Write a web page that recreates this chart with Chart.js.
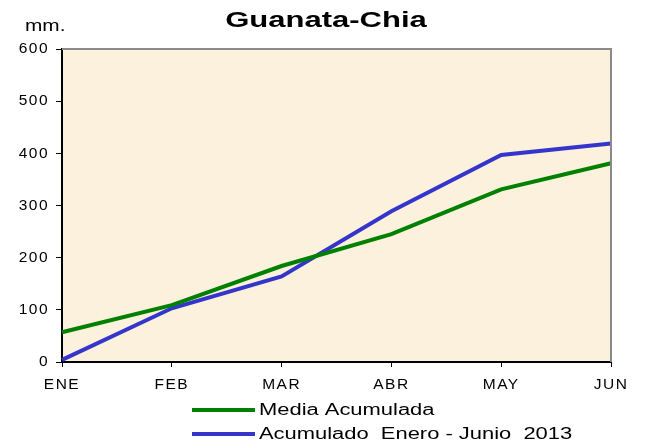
<!DOCTYPE html>
<html>
<head>
<meta charset="utf-8">
<script src="https://cdn.jsdelivr.net/npm/chart.js@4.4.1/dist/chart.umd.min.js"></script>
<style>
  html, body { margin: 0; padding: 0; background: #fff; }
  #wrap { width: 645px; height: 448px; position: relative; }
</style>
</head>
<body>
<div id="wrap"><canvas id="rainChart" width="645" height="448"></canvas></div>
<script>
// Chart data
const months = ['ENE', 'FEB', 'MAR', 'ABR', 'MAY', 'JUN'];
const mediaAcumulada = [57, 109, 184, 245, 331, 381];
const acumulado2013 = [4, 103, 164, 289, 397, 419];
const yTicks = [0, 100, 200, 300, 400, 500, 600];

const seriesLabels = ['Media Acumulada', 'Acumulado  Enero - Junio  2013'];
const seriesColors = ['#008000', '#3535cc'];

const FONT = '"Liberation Sans", Arial, sans-serif';

// the original picture is stretched sideways, so text is drawn wider
function wideText(ctx, text, x, y, sx, align) {
  ctx.save();
  ctx.translate(x, y);
  ctx.scale(sx, 1);
  ctx.textAlign = align;
  ctx.fillText(text, 0, 0);
  ctx.restore();
}

// Plot background, frame, title, unit label and legend
const decorPlugin = {
  id: 'decor',
  beforeDraw(chart) {
    const { ctx, chartArea: a } = chart;
    ctx.save();
    ctx.fillStyle = '#fcf1dc';
    ctx.fillRect(a.left, a.top, a.right - a.left, a.bottom - a.top);
    ctx.restore();
    // spread the tick text a bit like the original
    ctx.letterSpacing = '1.5px';
  },
  afterDraw(chart) {
    const { ctx, chartArea: a } = chart;
    ctx.save();
    ctx.letterSpacing = '0px';
    // grey frame on top and right
    ctx.strokeStyle = '#8a8a8a';
    ctx.lineWidth = 2;
    ctx.beginPath();
    ctx.moveTo(a.left, a.top);
    ctx.lineTo(a.right, a.top);
    ctx.lineTo(a.right, a.bottom);
    ctx.stroke();

    ctx.fillStyle = '#000';
    ctx.textBaseline = 'alphabetic';
    // title
    ctx.font = 'bold 22px ' + FONT;
    wideText(ctx, 'Guanata-Chia', 326, 27, 1.41, 'center');

    // unit label
    ctx.font = '16px ' + FONT;
    wideText(ctx, 'mm.', 25, 31, 1.3, 'left');

    // legend
    ctx.font = '16px ' + FONT;
    ctx.textBaseline = 'middle';
    chart.data.datasets.forEach((ds, i) => {
      const y = 410 + i * 24;
      ctx.strokeStyle = ds.borderColor;
      ctx.lineWidth = 4;
      ctx.beginPath();
      ctx.moveTo(192, y);
      ctx.lineTo(255, y);
      ctx.stroke();
      wideText(ctx, ds.label, 259, y + 1, 1.37, 'left');
    });
    ctx.restore();
  }
};

new Chart(document.getElementById('rainChart'), {
  type: 'line',
  data: {
    labels: months,
    datasets: [
      {
        label: seriesLabels[0],
        data: mediaAcumulada,
        borderColor: seriesColors[0],
        borderWidth: 4,
        pointRadius: 0,
        tension: 0,
        fill: false
      },
      {
        label: seriesLabels[1],
        data: acumulado2013,
        borderColor: seriesColors[1],
        borderWidth: 4,
        pointRadius: 0,
        tension: 0,
        fill: false
      }
    ]
  },
  options: {
    responsive: false,
    animation: false,
    layout: {
      padding: { top: 49, right: 34, bottom: 56, left: 0 }
    },
    plugins: {
      legend: { display: false },
      title: { display: false },
      tooltip: { enabled: false }
    },
    scales: {
      x: {
        type: 'category',
        offset: false,
        grid: {
          drawOnChartArea: false,
          drawTicks: true,
          tickLength: 5,
          color: '#000'
        },
        border: { color: '#000', width: 2 },
        ticks: {
          color: '#000',
          padding: 8,
          maxRotation: 0,
          autoSkip: false,
          font: { family: FONT, size: 15.5 }
        },
        afterFit(scale) { scale.height = 30; }
      },
      y: {
        min: 0,
        max: 600,
        afterBuildTicks(scale) {
          scale.ticks = yTicks.map(v => ({ value: v }));
        },
        grid: {
          drawOnChartArea: false,
          drawTicks: true,
          tickLength: 6,
          color: '#000'
        },
        border: { color: '#000', width: 2 },
        ticks: {
          color: '#000',
          padding: 7,
          font: { family: FONT, size: 15.5 }
        },
        afterFit(scale) { scale.width = 62; }
      }
    }
  },
  plugins: [decorPlugin]
});
</script>
</body>
</html>
